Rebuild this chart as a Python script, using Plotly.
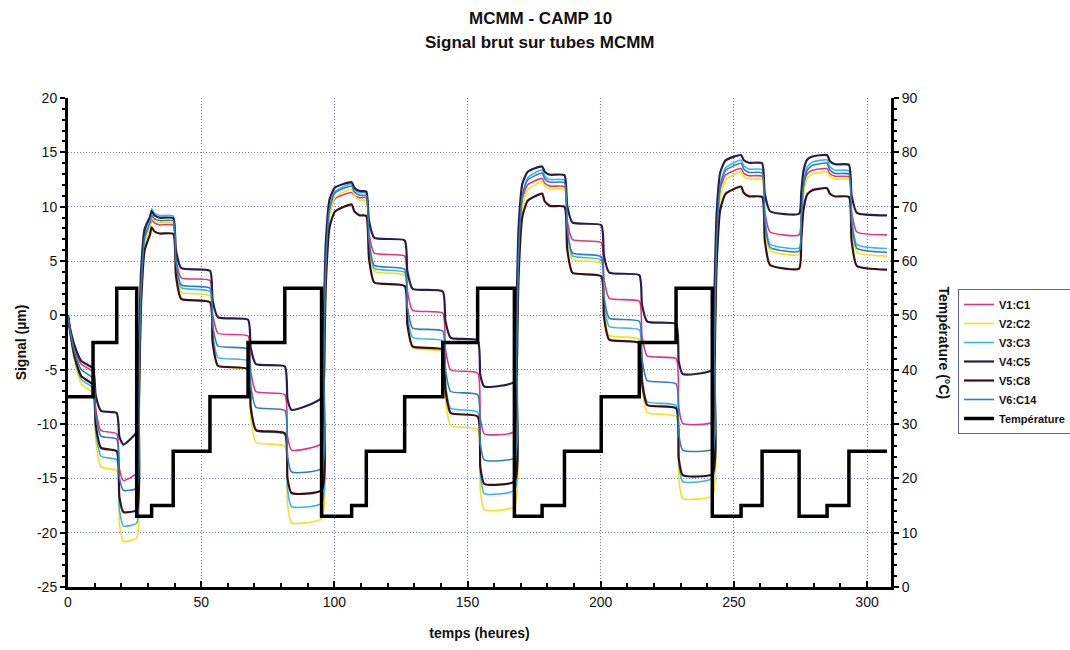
import plotly.graph_objects as go

# sampling times (hours) of the signal curves
hours = [0,
         0.8, 2.5, 5.0, 9.4,
         10.4, 12.4, 18.3,
         19.3, 20.8, 25.8,
         26.6, 27.4, 28.8, 30.8, 31.4,
         32.4, 34.4, 39.5,
         40.5, 42.5, 53.3,
         54.3, 56.3, 67.6,
         68.6, 70.6, 81.4,
         82.4, 83.9, 95.2,
         96.0, 96.8, 98.2, 100.2, 106.5,
         107.5, 109.5, 112,
         113, 115, 126.4,
         127.4, 129.4, 140.7,
         141.7, 143.7, 153.8,
         154.8, 156.3, 167.6,
         168.4, 169.2, 170.6, 172.6, 178,
         179, 181, 186.4,
         187.4, 189.4, 200.2,
         201.2, 203.2, 214.5,
         215.5, 217.5, 228.3,
         229.3, 230.8, 241.9,
         242.7, 243.5, 244.9, 246.9, 252.7,
         253.7, 255.7, 260.6,
         261.6, 263.6, 274.5,
         275.3, 276.1, 277.5, 279.5, 285,
         286, 288, 293.2,
         294.2, 296.2, 307.5]

v1_c1 = [0,
         -1.3, -3.1, -4.5, -5.2,
         -8.6, -10.6, -10.9,
         -14.1, -15.2, -14.5,
         -6.3, 2.3, 6.9, 8.2, 8.8,
         8.5, 8.32, 8.3,
         5.24, 3.45, 3.2,
         0.14, -1.65, -1.9,
         -5.14, -7.03, -7.3,
         -11.13, -12.4, -11.8,
         -3.71, 4.83, 9.45, 10.72, 11.3,
         11.0, 10.83, 10.8,
         7.59, 5.72, 5.45,
         2.3, 0.46, 0.2,
         -3.1, -5.03, -5.3,
         -9.5, -10.9, -10.7,
         -2.55, 6.08, 10.74, 12.02, 12.6,
         12.15, 11.89, 11.85,
         8.76, 6.96, 6.7,
         3.46, 1.57, 1.3,
         -1.88, -3.74, -4.0,
         -8.46, -9.95, -9.8,
         -1.65, 6.98, 11.64, 12.92, 13.5,
         13.08, 12.84, 12.8,
         9.56, 7.67, 7.4,
         9.54, 11.79, 13.01, 13.35, 13.5,
         13.05, 12.79, 12.75,
         9.54, 7.67, 7.4]

v2_c2 = [0,
         -1.7, -4.3, -6.3, -7.2,
         -11.46, -13.95, -14.3,
         -19.18, -20.8, -20.5,
         -10.18, 0.74, 6.64, 8.26, 9.0,
         8.7, 8.52, 8.5,
         4.48, 2.14, 1.8,
         -2.28, -4.66, -5.0,
         -9.23, -11.7, -12.05,
         -17.34, -19.1, -18.7,
         -8.1, 3.12, 9.18, 10.84, 11.6,
         10.97, 10.6, 10.55,
         6.44, 4.04, 3.7,
         -0.53, -3.0, -3.35,
         -7.64, -10.14, -10.5,
         -16.05, -17.9, -17.6,
         -7.14, 3.93, 9.91, 11.55, 12.3,
         11.88, 11.64, 11.6,
         7.52, 5.14, 4.8,
         0.6, -1.85, -2.2,
         -6.46, -8.95, -9.3,
         -14.96, -16.85, -16.6,
         -6.17, 4.86, 10.82, 12.46, 13.2,
         12.78, 12.54, 12.5,
         8.36, 5.95, 5.6,
         8.26, 11.07, 12.59, 13.01, 13.2,
         12.78, 12.54, 12.5,
         8.27, 5.8, 5.45]

v3_c3 = [0,
         -1.6, -4.0, -5.9, -6.7,
         -10.66, -12.97, -13.3,
         -17.88, -19.4, -19.1,
         -8.99, 1.71, 7.49, 9.08, 9.8,
         9.41, 9.18, 9.15,
         4.98, 2.55, 2.2,
         -1.64, -3.88, -4.2,
         -8.25, -10.61, -10.95,
         -15.94, -17.6, -17.3,
         -7.01, 3.87, 9.75, 11.37, 12.1,
         11.59, 11.29, 11.25,
         6.87, 4.32, 3.95,
         0.17, -2.04, -2.35,
         -6.28, -8.57, -8.9,
         -14.53, -16.4, -16.1,
         -5.78, 5.14, 11.04, 12.66, 13.4,
         12.83, 12.5, 12.45,
         8.04, 5.47, 5.1,
         1.23, -1.03, -1.35,
         -5.52, -7.95, -8.3,
         -13.55, -15.3, -15.0,
         -4.75, 6.1, 11.96, 13.57, 14.3,
         13.76, 13.45, 13.4,
         9.08, 6.56, 6.2,
         9.04, 12.03, 13.65, 14.1, 14.3,
         13.7, 13.35, 13.3,
         9.01, 6.51, 6.15]

v4_c5 = [0,
         -1.2, -2.8, -4.2, -4.9,
         -7.36, -8.8, -9.0,
         -11.18, -11.9, -10.7,
         -3.6, 3.92, 7.98, 9.09, 9.6,
         9.21, 8.98, 8.95,
         6.04, 4.34, 4.1,
         1.4, -0.18, -0.4,
         -2.98, -4.49, -4.7,
         -7.7, -8.7, -7.6,
         -0.65, 6.69, 10.66, 11.75, 12.25,
         11.74, 11.44, 11.4,
         8.7, 7.12, 6.9,
         4.08, 2.44, 2.2,
         -0.5, -2.08, -2.3,
         -5.49, -6.55, -6.1,
         0.83, 8.16, 12.12, 13.21, 13.7,
         13.22, 12.94, 12.9,
         10.14, 8.53, 8.3,
         5.54, 3.93, 3.7,
         1.0, -0.58, -0.8,
         -4.25, -5.4, -5.0,
         1.91, 9.22, 13.17, 14.26, 14.75,
         14.3, 14.04, 14.0,
         11.21, 9.58, 9.35,
         11.24, 13.24, 14.32, 14.62, 14.75,
         14.21, 13.9, 13.85,
         11.06, 9.43, 9.2]

v5_c8 = [0,
         -1.5, -3.8, -5.6, -6.4,
         -10.06, -12.2, -12.5,
         -16.7, -18.1, -17.9,
         -8.8, 0.82, 6.02, 7.45, 8.1,
         7.74, 7.53, 7.5,
         3.72, 1.52, 1.2,
         -2.49, -4.64, -4.95,
         -8.49, -10.56, -10.85,
         -14.98, -16.35, -16.1,
         -6.9, 2.84, 8.1, 9.54, 10.2,
         9.57, 9.2, 9.15,
         5.28, 3.02, 2.7,
         -0.81, -2.86, -3.15,
         -6.84, -8.99, -9.3,
         -13.95, -15.5, -15.3,
         -6.03, 3.78, 9.08, 10.54, 11.2,
         10.48, 10.06, 10.0,
         6.16, 3.92, 3.6,
         -0.09, -2.24, -2.55,
         -6.15, -8.25, -8.55,
         -13.16, -14.7, -14.6,
         -5.34, 4.44, 9.73, 11.19, 11.85,
         11.28, 10.95, 10.9,
         6.94, 4.63, 4.3,
         6.89, 9.63, 11.11, 11.52, 11.7,
         11.22, 10.94, 10.9,
         6.88, 4.54, 4.2]

v6_c14 = [0,
          -1.4, -3.4, -5.0, -5.8,
          -9.16, -11.12, -11.4,
          -14.93, -16.1, -15.9,
          -7.12, 2.17, 7.19, 8.57, 9.2,
          8.9, 8.72, 8.7,
          4.98, 2.81, 2.5,
          -0.86, -2.82, -3.1,
          -6.49, -8.47, -8.75,
          -12.99, -14.4, -14.1,
          -5.0, 4.62, 9.82, 11.25, 11.9,
          11.36, 11.05, 11.0,
          6.95, 4.59, 4.25,
          0.83, -1.17, -1.45,
          -4.96, -7.01, -7.3,
          -11.8, -13.3, -13.1,
          -3.93, 5.76, 11.0, 12.45, 13.1,
          12.56, 12.25, 12.2,
          8.12, 5.74, 5.4,
          1.83, -0.25, -0.55,
          -4.0, -6.01, -6.3,
          -10.88, -12.4, -12.3,
          -3.1, 6.64, 11.9, 13.34, 14.0,
          13.46, 13.15, 13.1,
          8.78, 6.26, 5.9,
          8.74, 11.73, 13.35, 13.8, 14.0,
          13.4, 13.05, 13.0,
          8.68, 6.16, 5.8]

# temperature steps (°C), each value holds from its time until the next
temp_hours = [0, 9.4, 18.3, 25.8, 31.4, 39.5, 53.3, 67.6, 81.4, 95.2, 106.5, 112,
              126.4, 140.7, 153.8, 167.6, 178, 186.4, 200.2, 214.5, 228.3, 241.9,
              252.7, 260.6, 274.5, 285, 293.2, 307.5]
temperature = [35, 45, 55, 13, 15, 25, 35, 45, 55, 13, 15, 25,
               35, 45, 55, 13, 15, 25, 35, 45, 55, 13,
               15, 25, 13, 15, 25, 25]

# left-axis tick labels (plain hyphen minus as in the original)
signal_ticks = [-25, -20, -15, -10, -5, 0, 5, 10, 15, 20]
signal_tick_labels = ["-25", "-20", "-15", "-10", "-5", "0", "5", "10", "15", "20"]

series_names = ["V1:C1", "V2:C2", "V3:C3", "V4:C5", "V5:C8", "V6:C14"]
series_values = [v1_c1, v2_c2, v3_c3, v4_c5, v5_c8, v6_c14]
series_colors = ["#e0367f", "#f2e21a", "#38b6ef", "#2b1d45", "#3a0f14", "#2c7fb8"]
series_widths = [1.6, 1.6, 1.6, 2.2, 2.2, 1.6]

FONT = "Liberation Sans, Arial, sans-serif"

fig = go.Figure()
for name, vals, col, w in zip(series_names, series_values, series_colors, series_widths):
    fig.add_trace(go.Scatter(x=hours, y=vals, name=name, mode="lines",
                             line=dict(color=col, width=w, shape="spline", smoothing=0.5),
                             yaxis="y"))

fig.add_trace(go.Scatter(x=temp_hours, y=temperature, name="Température", mode="lines",
                         line=dict(color="black", width=3.5, shape="hv"), yaxis="y2"))

grid = dict(showgrid=True, gridcolor="#6f82c4", griddash="1px,2px", gridwidth=1)

fig.update_layout(
    width=1070, height=650,
    paper_bgcolor="white", plot_bgcolor="white",
    margin=dict(l=68, r=179, t=98, b=63, autoexpand=False),
    font=dict(family=FONT, color="#111", size=14),
    showlegend=True,
    legend=dict(xref="container", yref="container",
                x=958 / 1070, y=1 - 289 / 650, xanchor="left", yanchor="top",
                bgcolor="white", bordercolor="#5a6690", borderwidth=1,
                font=dict(family=FONT, size=11, color="#111", weight="bold"),
                tracegroupgap=0, itemwidth=30),
    xaxis=dict(range=[0, 309], tick0=0, dtick=50, zeroline=False,
               showline=True, linecolor="black", linewidth=3,
               ticks="inside", ticklen=6, tickwidth=2, tickcolor="black",
               minor=dict(dtick=10, ticks="inside", ticklen=4, tickwidth=1.5,
                          tickcolor="black", showgrid=False),
               tickfont=dict(size=14),
               title=dict(text="<b>temps (heures)</b>", font=dict(size=14), standoff=20),
               **grid),
    yaxis=dict(range=[-25, 20], tickmode="array", tickvals=signal_ticks,
               ticktext=signal_tick_labels, zeroline=False,
               showline=True, linecolor="black", linewidth=3,
               ticks="outside", ticklen=5, tickwidth=2, tickcolor="black",
               minor=dict(dtick=1, tick0=0, ticks="outside", ticklen=3, tickwidth=1.5,
                          tickcolor="black", showgrid=False),
               tickfont=dict(size=14),
               title=dict(text="<b>Signal (µm)</b>", font=dict(size=14), standoff=8),
               **grid),
    yaxis2=dict(range=[0, 90], tick0=0, dtick=10, overlaying="y", side="right",
                zeroline=False, showgrid=False,
                showline=True, linecolor="black", linewidth=3,
                ticks="outside", ticklen=5, tickwidth=2, tickcolor="black",
                minor=dict(dtick=2, ticks="outside", ticklen=3, tickwidth=1.5,
                           tickcolor="black", showgrid=False),
                tickfont=dict(size=14)),
    annotations=[
        dict(text="<b>MCMM - CAMP 10</b>", xref="paper", yref="paper",
             x=(540 - 68) / 823, y=(587 - 19) / 489, xanchor="center", yanchor="middle",
             showarrow=False, font=dict(size=17, family=FONT, color="#111")),
        dict(text="<b>Signal brut sur tubes MCMM</b>", xref="paper", yref="paper",
             x=(540 - 68) / 823, y=(587 - 42) / 489, xanchor="center", yanchor="middle",
             showarrow=False, font=dict(size=17, family=FONT, color="#111")),
        dict(text="<b>Température (°C)</b>", xref="paper", yref="paper",
             x=(944 - 68) / 823, y=0.5, xanchor="center", yanchor="middle",
             textangle=90, showarrow=False, font=dict(size=14, family=FONT, color="#111")),
    ],
)

fig.write_html("out.html")
